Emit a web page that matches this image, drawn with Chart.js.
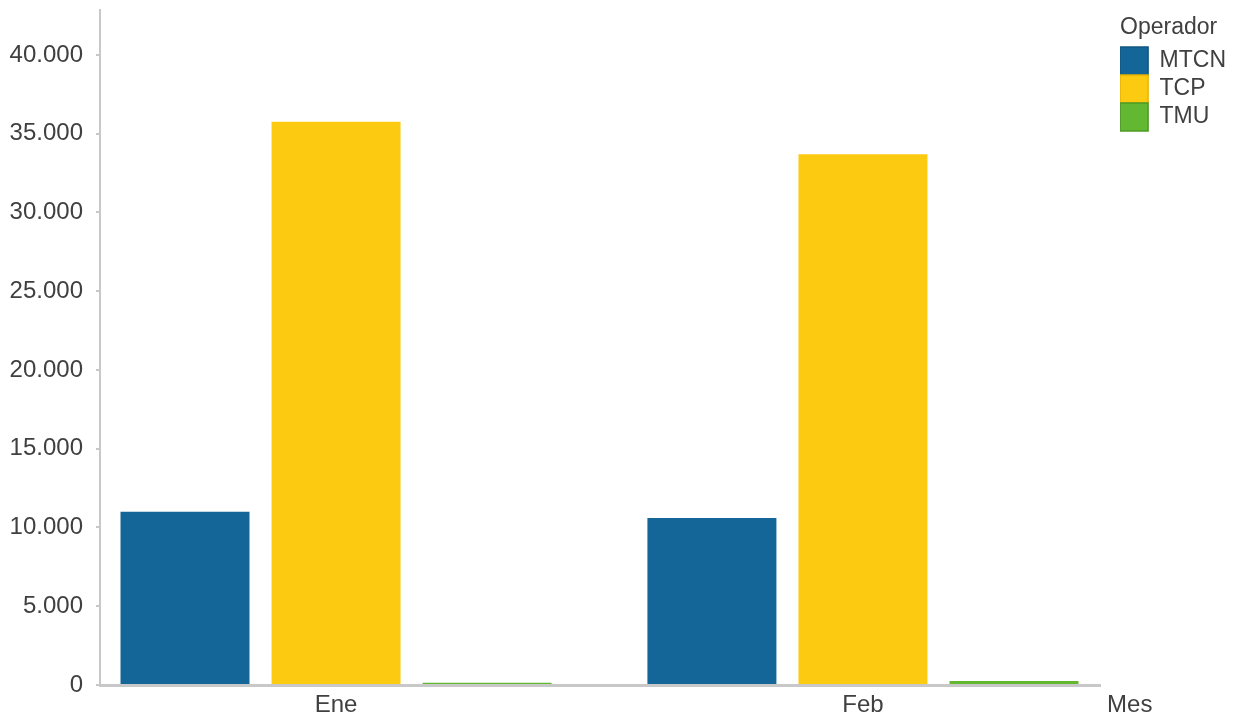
<!DOCTYPE html>
<html>
<head>
<meta charset="utf-8">
<script src="https://cdn.jsdelivr.net/npm/chart.js@4/dist/chart.umd.min.js"></script>
<style>
  html, body { margin: 0; padding: 0; background: #fff; }
</style>
</head>
<body>
<canvas id="myChart" width="1245" height="715"></canvas>
<script>
// data
var months = ['Ene', 'Feb'];
var mtcn = [11000, 10600];
var tcp = [35750, 33700];
var tmu = [140, 250];
var operadores = ['MTCN', 'TCP', 'TMU'];
var yTicks = [0, 5000, 10000, 15000, 20000, 25000, 30000, 35000, 40000];

var fillColors = ['#146699', '#fdca12', '#63b832'];
var edgeColors = ['#0f5582', '#e9b400', '#4e9a26'];
var textColor = '#404040';
var axisColor = '#c8c8c8';
var fontFamily = '"Liberation Sans", Arial, sans-serif';

function fmt(v) {
  return v.toString().replace(/\B(?=(\d{3})+(?!\d))/g, '.');
}

function points(arr) {
  return arr.map(function (v, i) { return {x: i, y: v}; });
}

// leaves a gap between the plot and the legend
var legendGap = {
  id: 'legendGap',
  beforeInit: function (chart) {
    var fit = chart.legend.fit;
    chart.legend.fit = function () {
      fit.call(this);
      this.width += 20;
    };
  },
  afterLayout: function (chart) {
    chart.legend.left += 20;
  }
};

// "Mes" at the right end of the x axis
var xTitle = {
  id: 'xTitle',
  afterDraw: function (chart) {
    var ctx = chart.ctx;
    var area = chart.chartArea;
    var xs = chart.scales.x;
    ctx.save();
    ctx.font = '24px ' + fontFamily;
    ctx.fillStyle = textColor;
    ctx.textAlign = 'left';
    ctx.textBaseline = 'middle';
    ctx.fillText('Mes', area.right + 7, xs.top + 8 + 12);
    ctx.restore();
  }
};

var ctx = document.getElementById('myChart').getContext('2d');
var myChart = new Chart(ctx, {
  type: 'bar',
  data: {
    datasets: [
      {label: operadores[0], data: points(mtcn), backgroundColor: fillColors[0], borderWidth: 0},
      {label: operadores[1], data: points(tcp), backgroundColor: fillColors[1], borderWidth: 0},
      {label: operadores[2], data: points(tmu), backgroundColor: fillColors[2], borderWidth: 0}
    ]
  },
  options: {
    responsive: false,
    animation: false,
    categoryPercentage: 0.86,
    barPercentage: 0.854,
    layout: {
      padding: {left: 10, top: 10, right: 9, bottom: 0}
    },
    scales: {
      x: {
        type: 'linear',
        offset: false,
        min: -0.448,
        max: 1.45,
        afterBuildTicks: function (scale) {
          scale.ticks = months.map(function (m, i) { return {value: i}; });
        },
        afterFit: function (scale) {
          scale.height = 30;
          scale.paddingLeft = 0;
          scale.paddingRight = 0;
        },
        ticks: {
          color: textColor,
          padding: 8,
          maxRotation: 0,
          font: {family: fontFamily, size: 24, lineHeight: 1},
          callback: function (value) { return months[value]; }
        },
        grid: {display: false, drawTicks: false},
        border: {display: true, color: axisColor, width: 3, z: -1}
      },
      y: {
        min: 0,
        max: 42850,
        afterBuildTicks: function (scale) {
          scale.ticks = yTicks.map(function (v) { return {value: v}; });
        },
        afterFit: function (scale) {
          scale.width = 90;
          scale.paddingTop = 0;
          scale.paddingBottom = 0;
        },
        ticks: {
          color: textColor,
          padding: 13,
          font: {family: fontFamily, size: 24},
          callback: function (value) { return fmt(value); }
        },
        grid: {drawOnChartArea: false, color: axisColor, tickLength: 4, lineWidth: 2},
        border: {display: true, color: axisColor, width: 2, z: -1}
      }
    },
    plugins: {
      tooltip: {enabled: false},
      legend: {
        position: 'right',
        align: 'start',
        title: {
          display: true,
          text: 'Operador',
          position: 'start',
          color: textColor,
          padding: {top: 6, bottom: 3.4},
          font: {family: fontFamily, size: 23}
        },
        labels: {
          boxWidth: 28,
          boxHeight: 28,
          padding: 0,
          color: textColor,
          font: {family: fontFamily, size: 23},
          generateLabels: function (chart) {
            return operadores.map(function (name, i) {
              return {
                text: name,
                fillStyle: fillColors[i],
                strokeStyle: edgeColors[i],
                lineWidth: 1.5,
                datasetIndex: i,
                fontColor: textColor
              };
            });
          }
        }
      }
    }
  },
  plugins: [legendGap, xTitle]
});
</script>
</body>
</html>
